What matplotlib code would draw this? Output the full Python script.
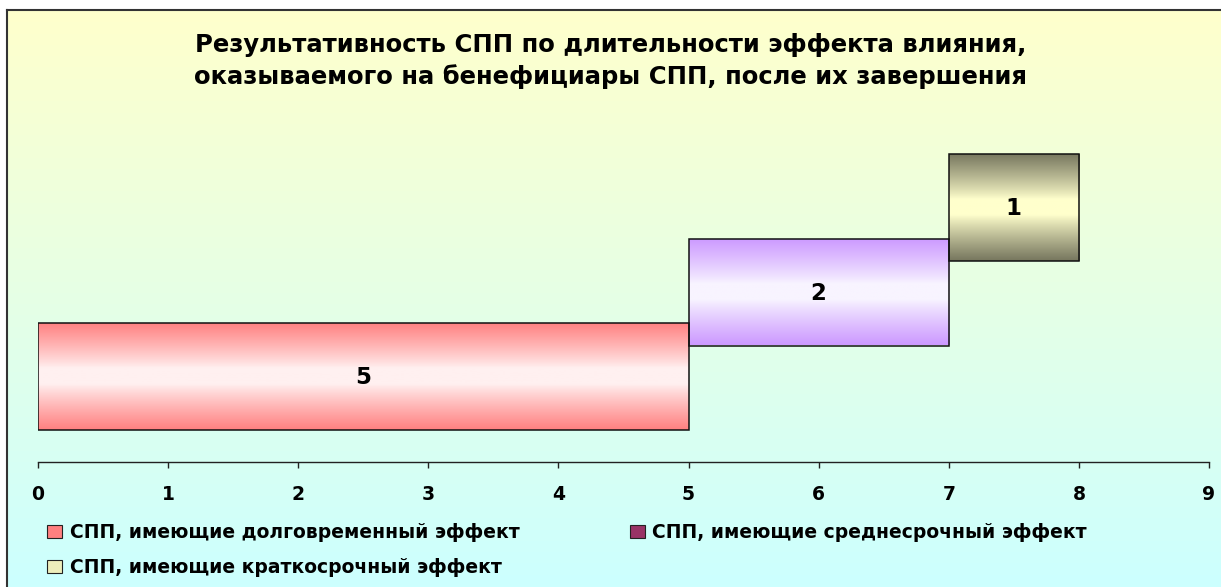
import matplotlib
matplotlib.use("Agg")
import matplotlib.pyplot as plt
import numpy as np
from matplotlib.colors import to_rgb
from matplotlib.patches import Patch
from matplotlib.lines import Line2D

plt.rcParams['font.family'] = ['DejaVu Sans']
plt.rcParams['font.weight'] = 'bold'

# data
series = ['СПП, имеющие долговременный эффект',
          'СПП, имеющие среднесрочный эффект',
          'СПП, имеющие краткосрочный эффект']
values = [5, 2, 1]
x_ticks = [0, 1, 2, 3, 4, 5, 6, 7, 8, 9]
title = ('Результативность СПП по длительности эффекта влияния,\n'
         'оказываемого на бенефициары СПП, после их завершения')

# bar gradients: (edge colour, centre colour)
bar_grad = [('#ff8080', '#fff0f0'),
            ('#cc99ff', '#f8f4ff'),
            ('#76765e', '#ffffcc')]
legend_colors = ['#ff8080', '#993366', '#eeeebb']

W, H = 1221, 587
fig = plt.figure(figsize=(W / 100, H / 100), dpi=100)

# background gradient (light yellow -> light cyan)
bg = fig.add_axes([7 / W, 0, 1 - 7 / W, 1 - 10 / H])
top_c = np.array(to_rgb('#ffffcc'))
bot_c = np.array(to_rgb('#ccffff'))
t = np.linspace(0, 1, 256)[:, None, None]
grad = top_c * (1 - t) + bot_c * t
bg.imshow(grad, aspect='auto', extent=[0, 1, 0, 1], origin='upper')
bg.set_axis_off()
fig.add_artist(Line2D([7.5 / W, 7.5 / W], [0, 1 - 9.5 / H], transform=fig.transFigure,
                      color='#333333', lw=1.5))
fig.add_artist(Line2D([7 / W, 1], [1 - 10 / H, 1 - 10 / H], transform=fig.transFigure,
                      color='#333333', lw=1.5))

# main axes
px_unit = 84.5
ax_top, ax_bot = 130, 462
ax = fig.add_axes([38 / W, (H - ax_bot) / H, (1209 - 38) / W, (ax_bot - ax_top) / H])
ax.set_facecolor('none')
y0 = -(ax_bot - 376.5) / px_unit

lefts = np.concatenate([[0], np.cumsum(values)[:-1]])
ypos = np.arange(len(values))
bar_h = 107 / px_unit
bars = ax.barh(ypos, values, left=lefts, height=bar_h, color='none',
               edgecolor='#111111', linewidth=1.1, zorder=3)

s = np.abs(np.linspace(-1, 1, 200))
mix = np.clip((s - 0.15) / 0.85, 0, 1) ** 0.9
for bar, (edge_c, mid_c), v in zip(bars, bar_grad, values):
    e = np.array(to_rgb(edge_c))
    m = np.array(to_rgb(mid_c))
    img = m * (1 - mix[:, None]) + e * mix[:, None]
    x, y = bar.get_x(), bar.get_y()
    w, h = bar.get_width(), bar.get_height()
    im = ax.imshow(img[:, None, :], aspect='auto', extent=[x, x + w, y, y + h],
                   origin='lower', zorder=2)
    im.set_clip_path(bar)
    ax.text(x + w / 2, y + h / 2 - 0.015, str(v), ha='center', va='center',
            fontsize=16.5, fontweight='bold', zorder=4)

ax.set_xlim(0, 9)
ax.set_ylim(y0, y0 + (ax_bot - ax_top) / px_unit)
ax.set_xticks(x_ticks)
ax.set_yticks([])
for sp in ['top', 'right', 'left']:
    ax.spines[sp].set_visible(False)
ax.spines['bottom'].set_color('#222222')
ax.spines['bottom'].set_linewidth(1.0)
ax.tick_params(axis='x', direction='out', length=4.5, width=1.0, pad=12,
               labelsize=13.5, colors='#222222', labelcolor='black')

fig.text(0.5, 1 - 61 / H, title, ha='center', va='center', fontsize=17.5,
         fontweight='bold', linespacing=1.37)

handles = [Patch(facecolor=c, edgecolor='#222222', linewidth=0.8) for c in legend_colors]
order = [0, 2, 1]
leg = fig.legend([handles[i] for i in order], [series[i] for i in order],
                 ncol=2, loc='center left', bbox_to_anchor=(47 / W, 1 - 550 / H),
                 frameon=False, fontsize=13.5, handlelength=0.8, handleheight=0.7,
                 handletextpad=0.4, columnspacing=5.9, labelspacing=0.82,
                 borderaxespad=0, borderpad=0)
for txt in leg.get_texts():
    txt.set_fontweight('bold')

fig.savefig('out.png', dpi=100)
